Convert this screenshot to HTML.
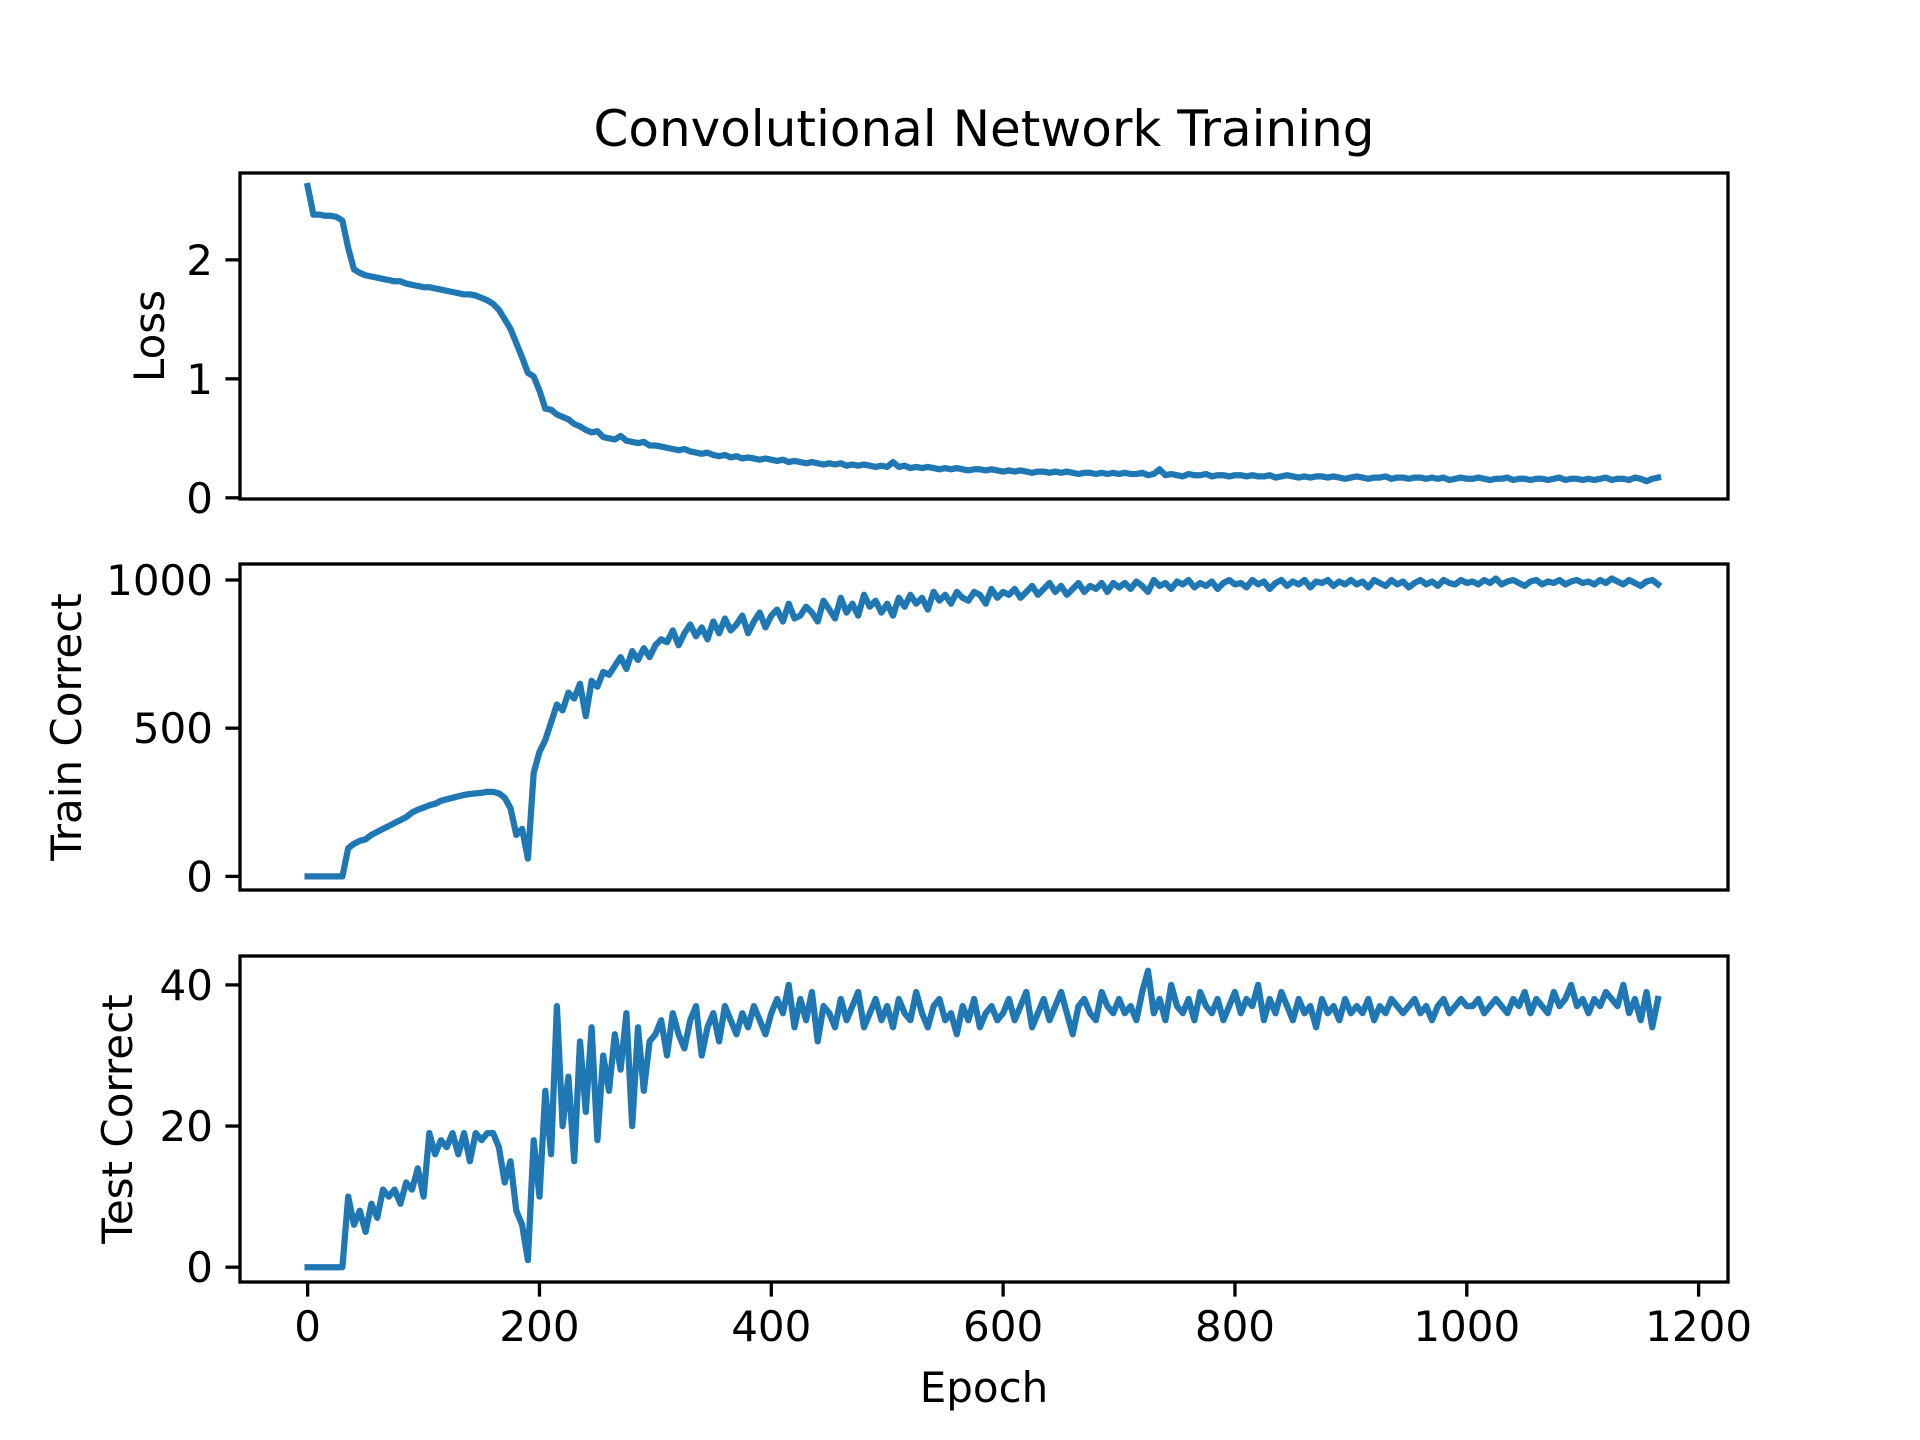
<!DOCTYPE html>
<html><head><meta charset="utf-8"><style>
body{margin:0;background:#fff}
svg{display:block;font-family:"DejaVu Sans","Liberation Sans",sans-serif}
</style></head><body>
<svg id="chart" width="1920" height="1440" viewBox="0 0 1920 1440" xmlns="http://www.w3.org/2000/svg">
<rect width="1920" height="1440" fill="#fff"/>
<text x="984" y="146" font-size="50" text-anchor="middle">Convolutional Network Training</text>
<text x="984" y="1402" font-size="42" text-anchor="middle">Epoch</text>
<g id="plots"></g>
</svg>
<script>
const epochStep = 5;
const lossValues = [2.62,2.38,2.38,2.37,2.37,2.36,2.33,2.1,1.92,1.89,1.87,1.86,1.85,1.84,1.83,1.82,1.82,1.80,1.79,1.78,1.77,1.77,1.76,1.75,1.74,1.73,1.72,1.71,1.71,1.70,1.68,1.66,1.63,1.58,1.50,1.42,1.30,1.18,1.05,1.02,0.90,0.75,0.74,0.70,0.68,0.66,0.62,0.60,0.57,0.55,0.56,0.51,0.50,0.49,0.52,0.48,0.47,0.46,0.47,0.44,0.44,
.43,.42,.41,.40,.41,.39,.38,.37,.38,.36,.35,.36,.34,.35,.33,.34,.33,.32,.33,.32,
.31,.32,.30,.31,.30,.29,.30,.29,.28,.29,.28,.29,.27,.28,.27,.28,.27,.26,.27,.26,
.30,.26,.27,.25,.26,.25,.26,.25,.24,.25,.24,.25,.24,.23,.24,.24,.23,.24,.23,.22,
.23,.22,.23,.22,.21,.22,.22,.21,.22,.21,.22,.21,.20,.21,.21,.20,.21,.20,.21,.20,
.21,.20,.20,.21,.19,.20,.24,.19,.20,.19,.18,.20,.19,.19,.20,.18,.19,.19,.18,.19,
.19,.18,.19,.18,.18,.19,.17,.18,.19,.18,.17,.18,.17,.18,.18,.17,.18,.17,.16,.17,
.18,.17,.16,.17,.17,.18,.16,.17,.17,.16,.17,.17,.16,.17,.16,.17,.15,.16,.17,.16,
.16,.17,.16,.15,.16,.16,.17,.15,.16,.16,.15,.16,.16,.15,.16,.17,.15,.16,.16,.15,
.16,.15,.16,.17,.15,.16,.16,.15,.17,.16,.14,.16,.17];
const trainValues = [0,0,0,0,0,0,0,95,110,120,125,140,150,160,170,180,190,200,215,225,232,240,245,255,260,265,270,275,278,280,282,285,285,280,265,230,140,160,60,350,420,460,520,580,560,620,600,650,540,660,640,690,680,710,740,700,760,730,770,740,780,
800,790,830,780,820,850,810,840,800,860,820,870,830,850,880,820,860,890,840,880,
900,860,920,870,880,910,890,860,930,900,870,940,890,920,880,950,910,930,890,920,
880,940,910,950,920,940,900,960,930,950,920,960,940,930,960,950,920,970,940,960,
950,970,940,960,980,950,970,990,960,980,950,970,990,960,980,970,990,960,990,975,
990,970,995,980,960,1000,980,990,970,995,985,1000,975,990,980,995,970,990,1000,985,
990,975,1000,985,995,970,990,1000,980,995,985,1000,975,995,990,1000,980,995,985,1000,
985,995,975,1000,990,980,1000,985,995,975,990,1000,985,995,980,1000,990,985,1000,990,
995,985,1000,990,1005,985,995,1000,990,980,995,1000,985,995,990,1000,985,995,1000,990,
995,985,1000,990,1005,995,985,1000,990,980,995,1000,985];
const testValues = [0,0,0,0,0,0,0,10,6,8,5,9,7,11,10,11,9,12,11,14,10,19,16,18,17,19,16,19,15,19,18,19,19,17,12,15,8,6,1,18,10,25,16,37,20,27,15,32,22,34,18,30,25,33,28,36,20,34,25,32,33,
35,30,36,33,31,35,37,30,34,36,32,37,35,33,36,34,37,35,33,36,
38,36,40,34,38,35,39,32,37,36,34,38,35,37,39,34,36,38,35,37,
34,38,36,35,39,36,34,37,38,35,36,33,37,35,38,34,36,37,35,36,
38,35,37,39,34,36,38,35,37,39,36,33,37,38,36,35,39,37,36,38,
36,37,35,39,42,36,38,35,40,37,36,38,35,39,37,36,38,35,37,39,
36,38,37,40,35,38,36,39,37,35,38,36,37,34,38,36,37,35,38,36,
37,36,38,35,37,36,38,37,36,37,38,36,37,35,37,38,36,37,38,37,
37,38,36,37,38,37,36,38,37,39,36,38,37,36,39,37,38,40,37,38,
36,38,37,39,38,37,40,36,38,35,39,34,38];
const xTicks = [0,200,400,600,800,1000,1200];
const lossTicks = [0,1,2];
const trainTicks = [0,500,1000];
const testTicks = [0,20,40];

const NS="http://www.w3.org/2000/svg";
const L=240,R=1728,XMIN=-58.35,XMAX=1225.35;
const xs=v=>L+(v-XMIN)/(XMAX-XMIN)*(R-L);
const g=document.getElementById('plots');
function mk(t,a){const e=document.createElementNS(NS,t);for(const k in a)e.setAttribute(k,a[k]);g.appendChild(e);return e;}
const panels=[
 {name:'loss',vals:lossValues,ticks:lossTicks,top:173,bot:499,ymin:-0.01,ymax:2.73,label:'Loss',lx:164},
 {name:'train-correct',vals:trainValues,ticks:trainTicks,top:564,bot:890,ymin:-46,ymax:1054,label:'Train Correct',lx:81},
 {name:'test-correct',vals:testValues,ticks:testTicks,top:956,bot:1282,ymin:-2.1,ymax:44.1,label:'Test Correct',lx:132}
];
panels.forEach((p,pi)=>{
 const ys=v=>p.bot-(v-p.ymin)/(p.ymax-p.ymin)*(p.bot-p.top);
 let d='';
 p.vals.forEach((v,i)=>{d+=(i?'L':'M')+xs(i*epochStep).toFixed(1)+','+ys(v).toFixed(1);});
 const line=mk('path',{d:d,fill:'none',stroke:'#1f77b4','stroke-width':6.25,'stroke-linejoin':'round','stroke-linecap':'square'});
 
 
 p.ticks.forEach(t=>{
  const y=ys(t);
  const tk=mk('line',{x1:L-14.6,x2:L,y1:y,y2:y,stroke:'#000','stroke-width':3.3});
  
  
  const tl=mk('text',{x:L-27,y:y+15,'font-size':42,'text-anchor':'end'});
  tl.textContent=t;
  
  
 });
 if(pi===2){
 xTicks.forEach(t=>{
  const x=xs(t);
  const tk=mk('line',{x1:x,x2:x,y1:p.bot,y2:p.bot+14.6,stroke:'#000','stroke-width':3.3});
  
  
  const tl=mk('text',{x:x,y:p.bot+59,'font-size':42,'text-anchor':'middle'});
  tl.textContent=t;
  
  
 });
 }
 const fr=mk('rect',{x:L,y:p.top,width:R-L,height:p.bot-p.top,fill:'none',stroke:'#000','stroke-width':3.3});
 
 
 const cy=(p.top+p.bot)/2;
 const yl=mk('text',{x:p.lx,y:cy,'font-size':42,'text-anchor':'middle',transform:'rotate(-90 '+p.lx+' '+cy+')'});
 yl.textContent=p.label;
 
 
});
</script>
</body></html>
